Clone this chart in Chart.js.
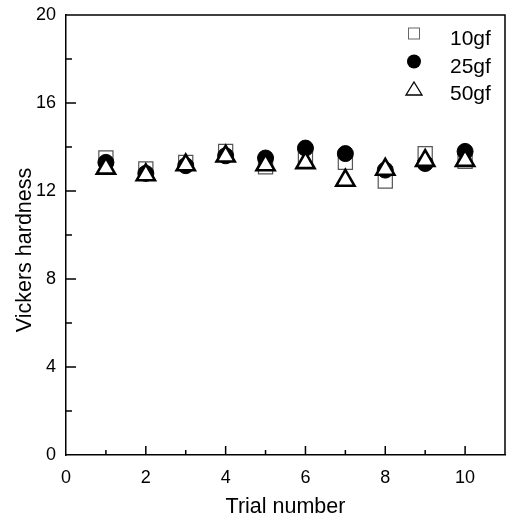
<!DOCTYPE html>
<html>
<head>
<meta charset="utf-8">
<script src="https://cdn.jsdelivr.net/npm/chart.js@4"></script>
<style>
  html, body { margin: 0; padding: 0; background: #fff; }
</style>
</head>
<body>
<canvas id="hardnessChart" width="506" height="520"></canvas>
<script>
// --- data ---
const trials = [1, 2, 3, 4, 5, 6, 7, 8, 9, 10];
const hv10gf = [13.5, 13.0, 13.3, 13.8, 13.1, 13.6, 13.3, 12.45, 13.7, 13.35];
const hv25gf = [13.3, 12.8, 13.15, 13.6, 13.5, 13.95, 13.7, 12.95, 13.25, 13.8];
const hv50gf = [13.03, 12.73, 13.18, 13.58, 13.18, 13.28, 12.48, 12.98, 13.38, 13.38];
const seriesLabels = ['10gf', '25gf', '50gf'];
const yTitle = 'Vickers hardness';

const FONT = 'Arial, "Liberation Sans", sans-serif';

function toPoints(values) {
    return trials.map((t, i) => ({ x: t, y: values[i] }));
}

// inward ticks + top/right frame + y title (sits a bit below centre in the original)
const frameTicks = {
    id: 'frameTicks',
    afterDatasetsDraw(chart) {
        const { ctx, chartArea: a, scales: { x, y } } = chart;
        ctx.save();
        ctx.strokeStyle = '#000';
        ctx.lineWidth = 1.5;
        ctx.beginPath();
        ctx.moveTo(a.left, a.top);
        ctx.lineTo(a.right, a.top);
        ctx.lineTo(a.right, a.bottom);
        x.ticks.forEach(t => {
            if (t.value <= x.min || t.value >= x.max) return;
            const px = x.getPixelForValue(t.value);
            const len = t.value % 2 === 0 ? 9 : 5;
            ctx.moveTo(px, a.bottom);
            ctx.lineTo(px, a.bottom - len);
        });
        y.ticks.forEach(t => {
            if (t.value <= y.min || t.value >= y.max) return;
            const py = y.getPixelForValue(t.value);
            const len = t.value % 4 === 0 ? 10 : 6;
            ctx.moveTo(a.left, py);
            ctx.lineTo(a.left + len, py);
        });
        ctx.stroke();

        ctx.translate(25, (a.top + a.bottom) / 2 + 15);
        ctx.rotate(-Math.PI / 2);
        ctx.fillStyle = '#000';
        ctx.font = '21.5px ' + FONT;
        ctx.textAlign = 'center';
        ctx.textBaseline = 'middle';
        ctx.fillText(yTitle, 0, 0);
        ctx.restore();
    }
};

// legend inside the plot, top right
const innerLegend = {
    id: 'innerLegend',
    afterDraw(chart) {
        const ctx = chart.ctx;
        const mx = 414, tx = 450;
        const rows = [33.5, 61.5, 89];
        ctx.save();
        // square
        ctx.strokeStyle = '#666';
        ctx.lineWidth = 1;
        ctx.strokeRect(mx - 5.5, rows[0] - 5.5, 11, 11);
        // circle
        ctx.fillStyle = '#000';
        ctx.beginPath();
        ctx.arc(mx, rows[1], 7, 0, Math.PI * 2);
        ctx.fill();
        // triangle
        ctx.strokeStyle = '#000';
        ctx.lineWidth = 1.3;
        ctx.beginPath();
        ctx.moveTo(mx, rows[2] - 7);
        ctx.lineTo(mx + 8, rows[2] + 6);
        ctx.lineTo(mx - 8, rows[2] + 6);
        ctx.closePath();
        ctx.stroke();
        // labels
        ctx.fillStyle = '#000';
        ctx.font = '21px ' + FONT;
        ctx.textBaseline = 'alphabetic';
        ctx.textAlign = 'left';
        const bases = [45, 72.5, 100];
        chart.data.datasets.forEach((ds, i) => ctx.fillText(ds.label, tx, bases[i]));
        ctx.restore();
    }
};

const ctx = document.getElementById('hardnessChart').getContext('2d');
const hardnessChart = new Chart(ctx, {
    type: 'scatter',
    data: {
        datasets: [
            {
                label: seriesLabels[0],
                data: toPoints(hv10gf),
                pointStyle: 'rect',
                pointRadius: 10,
                pointHoverRadius: 10,
                borderColor: '#555',
                borderWidth: 1.2,
                backgroundColor: '#fff',
                order: 3
            },
            {
                label: seriesLabels[1],
                data: toPoints(hv25gf),
                pointStyle: 'circle',
                pointRadius: 8,
                pointHoverRadius: 8,
                borderColor: '#000',
                borderWidth: 1,
                backgroundColor: '#000',
                order: 2
            },
            {
                label: seriesLabels[2],
                data: toPoints(hv50gf),
                pointStyle: 'triangle',
                pointRadius: 10.5,
                pointHoverRadius: 10.5,
                borderColor: '#000',
                borderWidth: 2.6,
                backgroundColor: '#fff',
                order: 1
            }
        ]
    },
    options: {
        responsive: false,
        animation: false,
        layout: { autoPadding: false, padding: { top: 15, right: 1, left: 0, bottom: 0 } },
        plugins: {
            legend: { display: false },
            tooltip: { enabled: false }
        },
        scales: {
            x: {
                type: 'linear',
                min: 0,
                max: 11,
                afterFit: s => {
                    s.height = 65;
                    s.paddingLeft = 0;
                    s.paddingRight = 0;
                },
                grid: { drawOnChartArea: false, drawTicks: false },
                border: { color: '#000', width: 1.5 },
                ticks: {
                    stepSize: 1,
                    autoSkip: false,
                    maxRotation: 0,
                    padding: 12,
                    color: '#000',
                    font: { family: FONT, size: 18 },
                    callback: v => (v % 2 === 0 && v <= 10) ? v : ''
                },
                title: {
                    display: true,
                    text: 'Trial number',
                    color: '#000',
                    padding: 0,
                    font: { family: FONT, size: 21.5 }
                }
            },
            y: {
                min: 0,
                max: 20,
                afterFit: s => {
                    s.width = 66;
                    s.paddingTop = 0;
                    s.paddingBottom = 0;
                },
                grid: { drawOnChartArea: false, drawTicks: false },
                border: { color: '#000', width: 1.5 },
                ticks: {
                    stepSize: 2,
                    autoSkip: false,
                    padding: 10,
                    color: '#000',
                    font: { family: FONT, size: 18 },
                    callback: v => v % 4 === 0 ? v : ''
                },
                title: { display: false }
            }
        }
    },
    plugins: [frameTicks, innerLegend]
});
</script>
</body>
</html>
